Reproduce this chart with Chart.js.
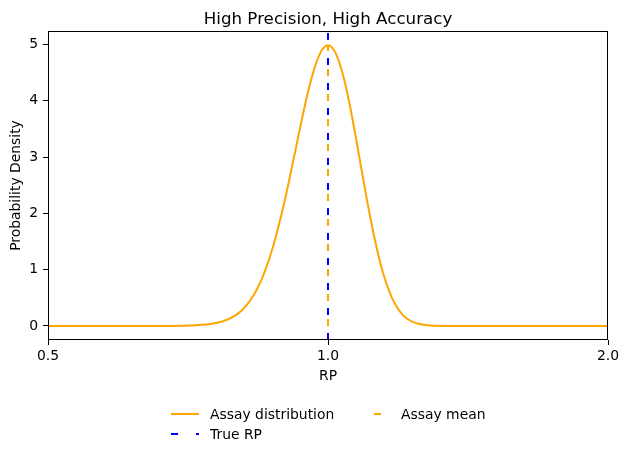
<!DOCTYPE html>
<html>
<head>
<meta charset="utf-8">
<script src="https://cdn.jsdelivr.net/npm/chart.js@4"></script>
<style>
  body { margin: 0; background: #fff; }
  #wrap { position: relative; width: 630px; height: 458px; font-family: 'DejaVu Sans', sans-serif; }
  #title { position: absolute; left: 48px; width: 560px; top: 8px; text-align: center; font-size: 16.7px; line-height: 20px; color: #000; }
  .lg-text { position: absolute; font-size: 13.9px; line-height: 16px; color: #000; white-space: nowrap; }
  .lg-line { position: absolute; height: 2px; width: 28px; }
</style>
</head>
<body>
<div id="wrap">
  <canvas id="chart" width="630" height="458"></canvas>
  <div id="title">High Precision, High Accuracy</div>
  <div class="lg-line" style="left:171px; top:413px; background:orange;"></div>
  <div class="lg-text" style="left:210px; top:406px;">Assay distribution</div>
  <div class="lg-line" style="left:362px; top:413px; background:linear-gradient(to right, transparent 12px, orange 12px 19px, transparent 19px);"></div>
  <div class="lg-text" style="left:401px; top:406px;">Assay mean</div>
  <div class="lg-line" style="left:171px; top:433px; background:repeating-linear-gradient(to right, blue 0 7px, transparent 7px 25px);"></div>
  <div class="lg-text" style="left:210px; top:426px;">True RP</div>
</div>
<script>
// Assay distribution curve (RP vs density)
const rpValues = [0.50, 0.60, 0.65, 0.70, 0.72, 0.75, 0.77, 0.78, 0.79, 0.80, 0.81, 0.82, 0.83, 0.84, 0.85,
  0.86, 0.87, 0.88, 0.89, 0.90, 0.91, 0.92, 0.93, 0.94, 0.95, 0.96, 0.97, 0.98, 0.99, 1.00,
  1.01, 1.02, 1.03, 1.04, 1.05, 1.06, 1.07, 1.08, 1.09, 1.10, 1.11, 1.12, 1.13, 1.14, 1.15,
  1.16, 1.17, 1.18, 1.19, 1.20, 1.21, 1.22, 1.23, 1.25, 1.28, 1.30, 1.40, 1.60, 1.80, 2.00];
const densityValues = [0, 0, 0, 0.004, 0.011, 0.038, 0.080, 0.114, 0.159, 0.219, 0.297, 0.397, 0.522, 0.675, 0.860,
  1.079, 1.332, 1.619, 1.938, 2.283, 2.649, 3.025, 3.401, 3.764, 4.102, 4.401, 4.648, 4.834, 4.948, 4.987,
  4.948, 4.834, 4.648, 4.401, 4.102, 3.764, 3.401, 3.025, 2.649, 2.283, 1.938, 1.619, 1.332, 1.079, 0.860,
  0.675, 0.522, 0.397, 0.297, 0.219, 0.159, 0.114, 0.080, 0.038, 0.011, 0.004, 0, 0, 0, 0];

const trueRP = 1.0;
const assayMean = 1.0;
const assayMeanTop = 4.99;   // orange dashed line runs from 0 up to the peak

const xTicks = [0.5, 1.0, 2.0];
const yTicks = [0, 1, 2, 3, 4, 5];
const yMin = -0.25, yMax = 5.24;

const font = { family: 'DejaVu Sans', size: 13.9 };

// black box around the plot like matplotlib spines
const frame = {
  id: 'frame',
  afterDatasetsDraw(chart) {
    const a = chart.chartArea, c = chart.ctx;
    c.save();
    c.strokeStyle = '#000';
    c.lineWidth = 1;
    c.strokeRect(Math.round(a.left) + 0.5, Math.round(a.top) + 0.5,
      Math.round(a.right - a.left) - 1, Math.round(a.bottom - a.top) - 1);
    c.restore();
  }
};

new Chart(document.getElementById('chart'), {
  type: 'line',
  data: {
    datasets: [
      {
        label: 'Assay distribution',
        data: rpValues.map((x, i) => ({ x: x, y: densityValues[i] })),
        borderColor: 'orange',
        borderWidth: 2,
        pointRadius: 0,
        cubicInterpolationMode: 'monotone'
      },
      {
        label: 'True RP',
        data: [{ x: trueRP, y: yMin }, { x: trueRP, y: yMax }],
        borderColor: 'blue',
        borderWidth: 2,
        borderDash: [7, 18],
        pointRadius: 0
      },
      {
        label: 'Assay mean',
        data: [{ x: assayMean, y: 0 }, { x: assayMean, y: assayMeanTop }],
        borderColor: 'orange',
        borderWidth: 2,
        borderDash: [7, 18],
        pointRadius: 0
      }
    ]
  },
  options: {
    responsive: false,
    animation: false,
    devicePixelRatio: 1,
    layout: { padding: { left: 0, right: 22, top: 31, bottom: 0 } },
    plugins: {
      legend: { display: false },
      tooltip: { enabled: false },
      title: { display: false }
    },
    scales: {
      x: {
        type: 'logarithmic',
        min: 0.5,
        max: 2.0,
        afterBuildTicks: s => { s.ticks = xTicks.map(v => ({ value: v })); },
        afterFit: s => { s.height = 118; },
        ticks: {
          color: '#000', font: font, padding: 3, autoSkip: false, maxRotation: 0,
          callback: v => Number(v).toFixed(1)
        },
        grid: { drawOnChartArea: false, tickLength: 5, tickColor: '#000' },
        border: { display: false },
        title: { display: true, text: 'RP', color: '#000', font: font, padding: { top: 0, bottom: 73.5 } }
      },
      y: {
        min: yMin,
        max: yMax,
        afterBuildTicks: s => { s.ticks = yTicks.map(v => ({ value: v })); },
        afterFit: s => { s.width = 48; },
        ticks: { color: '#000', font: font, padding: 5, callback: v => String(v) },
        grid: { drawOnChartArea: false, tickLength: 5, tickColor: '#000' },
        border: { display: false },
        title: { display: true, text: 'Probability Density', color: '#000', font: font, padding: { top: 8.5, bottom: 0 } }
      }
    }
  },
  plugins: [frame]
});
</script>
</body>
</html>
